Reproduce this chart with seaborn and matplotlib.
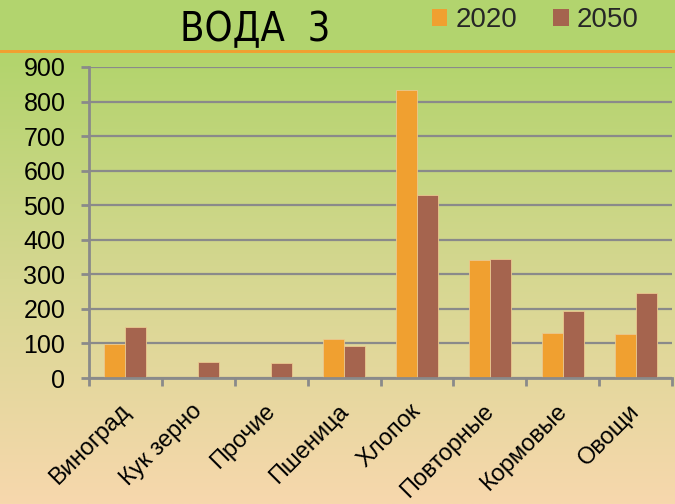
import numpy as np
import pandas as pd
import matplotlib
matplotlib.use("Agg")
import matplotlib.pyplot as plt
import matplotlib.transforms as mtransforms
from matplotlib.colors import LinearSegmentedColormap
from matplotlib.patches import Patch
import seaborn as sns

categories = ["Виноград", "Кук зерно", "Прочие", "Пшеница", "Хлопок", "Повторные", "Кормовые", "Овощи"]
values_2020 = [98, 0, 0, 113, 833, 341, 129, 127]
values_2050 = [148, 46, 43, 92, 530, 344, 195, 247]
series_names = ["2020", "2050"]
y_ticks = [0, 100, 200, 300, 400, 500, 600, 700, 800, 900]
title_text = "ВОДА  3"
colors = ["#f0a030", "#a5644e"]

df = pd.DataFrame({
    "cat": categories * 2,
    "year": [series_names[0]] * len(categories) + [series_names[1]] * len(categories),
    "val": values_2020 + values_2050,
})

sns.set_theme(style="white")
plt.rcParams["font.family"] = ["Liberation Sans", "DejaVu Sans"]

W, H = 675, 504
fig = plt.figure(figsize=(W / 100, H / 100), dpi=100)

# background gradient
bg = fig.add_axes([0, 0, 1, 1], zorder=-10)
cmap = LinearSegmentedColormap.from_list(
    "bg", [(0.0, "#b2d46c"), (0.5, "#d6d791"), (1.0, "#f7d8ad")])
grad = np.linspace(0, 1, 256).reshape(-1, 1)
bg.imshow(grad, aspect="auto", cmap=cmap, extent=[0, 1, 0, 1 - 53 / H], origin="upper")
bg.add_patch(plt.Rectangle((0, 1 - 50 / H), 1, 50 / H, color="#b2d46e", lw=0))
bg.add_patch(plt.Rectangle((0, 1 - 53 / H), 1, 3.5 / H, color="#f0a030", lw=0))
bg.set_xlim(0, 1)
bg.set_ylim(0, 1)
bg.axis("off")

ax = fig.add_axes([89 / W, 1 - 378 / H, (672 - 89) / W, (378 - 67) / H])
ax.patch.set_alpha(0)

sns.barplot(data=df, x="cat", y="val", hue="year", ax=ax,
            palette=colors, saturation=1, width=0.575, gap=0,
            edgecolor="#eac890", linewidth=0.6, legend=False)

ax.set_ylim(0, 900)
ax.set_xlim(-0.5, len(categories) - 0.5)
ax.set_yticks(y_ticks)
ax.set_yticklabels([str(t) for t in y_ticks], fontsize=18, color="black")
ax.set_xlabel("")
ax.set_ylabel("")
ax.grid(axis="y", color="#8a8a8a", linewidth=1.6, zorder=0)
ax.set_axisbelow(True)
for s in ["top", "right"]:
    ax.spines[s].set_visible(False)
for s in ["left", "bottom"]:
    ax.spines[s].set_color("#8a8a8a")
    ax.spines[s].set_linewidth(2)

# x ticks at category boundaries
ax.set_xticks(np.arange(-0.5, len(categories), 1.0), minor=True)
ax.tick_params(axis="x", which="minor", length=6, width=2, color="#8a8a8a", direction="out", bottom=True)
ax.tick_params(axis="x", which="major", length=0, pad=6)
ax.tick_params(axis="y", length=6, width=2, color="#8a8a8a", direction="out", left=True, pad=11)
ax.set_xticks(range(len(categories)))
ax.set_xticklabels(categories, rotation=45, ha="right", rotation_mode="anchor",
                   fontsize=17, color="black")
offset = mtransforms.ScaledTranslation(-7 / 100, -14 / 100, fig.dpi_scale_trans)
for lbl in ax.get_xticklabels():
    lbl.set_transform(lbl.get_transform() + offset)

# title
fig.text(255 / W, 1 - 30 / H, title_text, ha="center", va="center", fontsize=28.5,
         family=["DejaVu Sans"], fontstretch="condensed", color="black")

# legend
handles = [Patch(facecolor=c, edgecolor="none") for c in colors]
fig.legend(handles, series_names, loc="center left", bbox_to_anchor=(432 / W, 1 - 20 / H),
           ncol=2, frameon=False, fontsize=20, handlelength=0.55, handleheight=0.55,
           handletextpad=0.3, columnspacing=1.3, borderpad=0, borderaxespad=0)

fig.savefig("out.png", dpi=100)
